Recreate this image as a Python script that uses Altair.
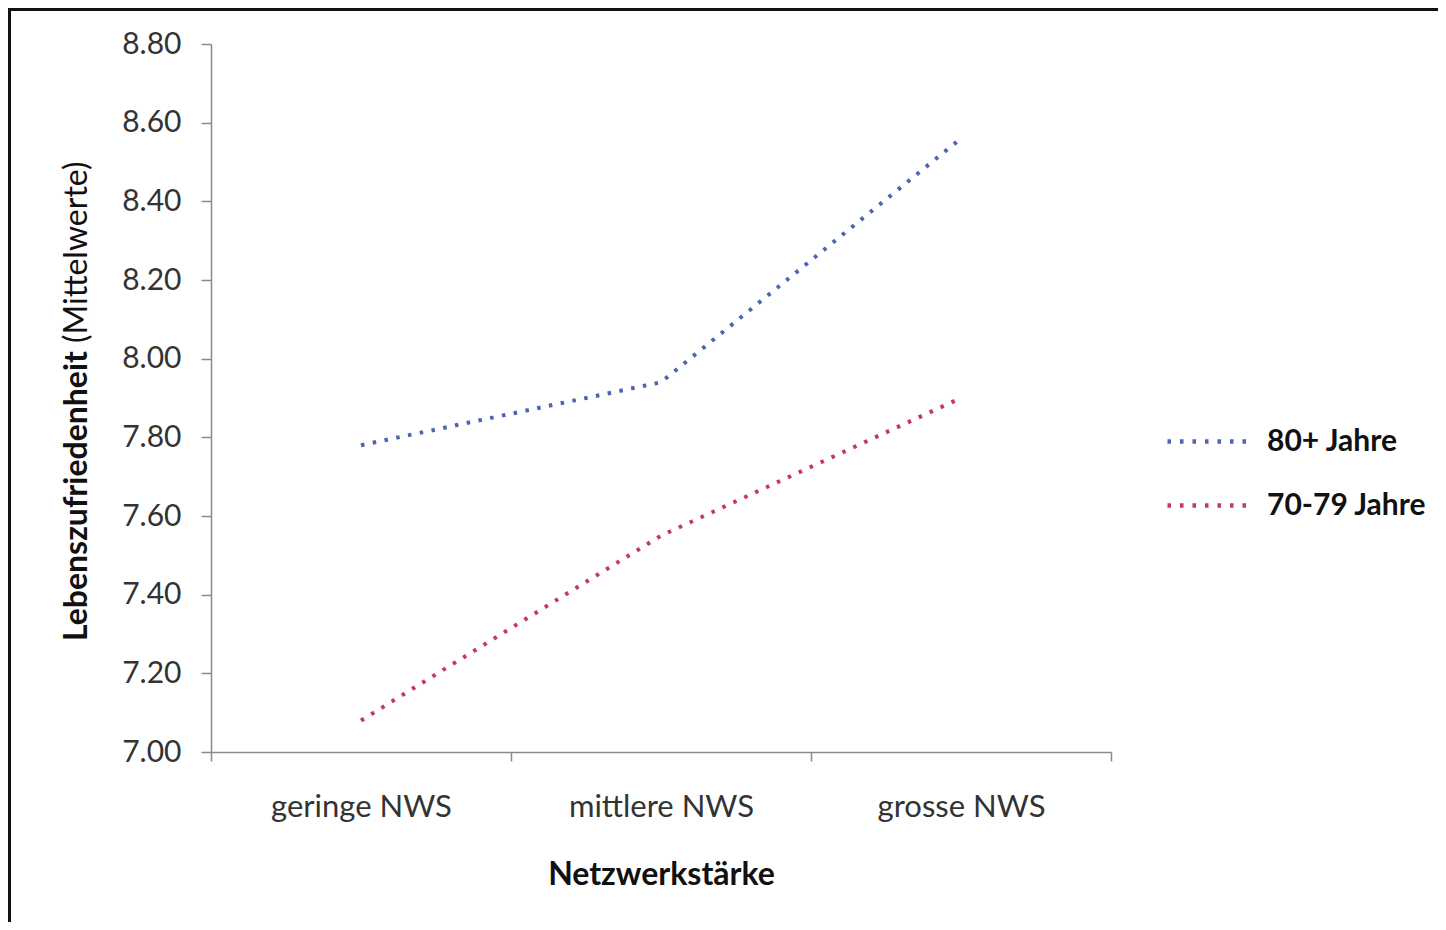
import altair as alt
import pandas as pd

categories = ["geringe NWS", "mittlere NWS", "grosse NWS"]
series_names = ["80+ Jahre", "70-79 Jahre"]
values_80 = [7.78, 7.94, 8.56]
values_70 = [7.08, 7.55, 7.90]
y_ticks = [7.0, 7.2, 7.4, 7.6, 7.8, 8.0, 8.2, 8.4, 8.6, 8.8]
colors = ["#4a66b0", "#c43a5e"]

rows = []
for name, vals in zip(series_names, [values_80, values_70]):
    for c, v in zip(categories, vals):
        rows.append({"NWS": c, "Wert": v, "Gruppe": name})
df = pd.DataFrame(rows)

FONT = "Lato"
W, H = 900, 708
PAD = {"left": 203, "top": 36, "right": 327, "bottom": 170}

lines = alt.Chart(df).mark_line(strokeWidth=4, strokeDash=[3.5, 8.5]).encode(
    x=alt.X(
        "NWS:N",
        sort=categories,
        scale=alt.Scale(type="band", paddingInner=0, paddingOuter=0),
        axis=alt.Axis(
            title="Netzwerkstärke",
            labelAngle=0,
            labelLimit=0,
            tickBand="extent",
            tickSize=9,
            labelPadding=31,
            labelFontSize=31,
            titleFontSize=32,
            titleFontWeight="bold",
            titlePadding=37,
        ),
    ),
    y=alt.Y(
        "Wert:Q",
        scale=alt.Scale(domain=[7.0, 8.8], nice=False, zero=False),
        axis=alt.Axis(
            values=y_ticks,
            format=".2f",
            title=None,
            grid=False,
            tickSize=10,
            labelPadding=20,
            labelFontSize=30,
        ),
    ),
    color=alt.Color(
        "Gruppe:N",
        sort=series_names,
        scale=alt.Scale(domain=series_names, range=colors),
        legend=alt.Legend(
            title=None,
            orient="none",
            legendX=954,
            legendY=354,
            symbolType="stroke",
            symbolSize=6724,
            symbolStrokeWidth=4.5,
            symbolDash=[3.5, 9],
            labelFontSize=30,
            labelFontWeight="bold",
            labelColor="#111111",
            labelFont=FONT,
            labelLimit=0,
            rowPadding=5,
            labelOffset=15,
            padding=0,
        ),
    ),
)

one = alt.Data(values=[{}])
title_bold = alt.Chart(one).mark_text(
    text="Lebenszufriedenheit", angle=270, align="right", baseline="middle",
    font=FONT, fontSize=32, fontWeight="bold", color="#111111",
).encode(x=alt.value(-134), y=alt.value(307))
title_reg = alt.Chart(one).mark_text(
    text="(Mittelwerte)", angle=270, align="left", baseline="middle",
    font=FONT, fontSize=32, fontWeight="normal", color="#111111",
).encode(x=alt.value(-134), y=alt.value(299))

frame_left = alt.Chart(one).mark_rule(color="#111111", strokeWidth=3).encode(
    x=alt.value(-PAD["left"] + 1.5), y=alt.value(-PAD["top"]), y2=alt.value(H + PAD["bottom"])
)
frame_top = alt.Chart(one).mark_rule(color="#111111", strokeWidth=3).encode(
    x=alt.value(-PAD["left"]), x2=alt.value(W + PAD["right"]), y=alt.value(-PAD["top"] + 1.5)
)

chart = alt.layer(lines, title_bold, title_reg, frame_left, frame_top).properties(
    width=W,
    height=H,
    autosize=alt.AutoSizeParams(type="none"),
    padding=PAD,
).configure_view(stroke=None).configure_axis(
    domainColor="#8a8a8a",
    tickColor="#8a8a8a",
    domainWidth=1.5,
    tickWidth=1.5,
    labelColor="#333333",
    titleColor="#111111",
    labelFont=FONT,
    titleFont=FONT,
)

chart.save("out.html", embed_options={"renderer": "svg", "actions": False})
